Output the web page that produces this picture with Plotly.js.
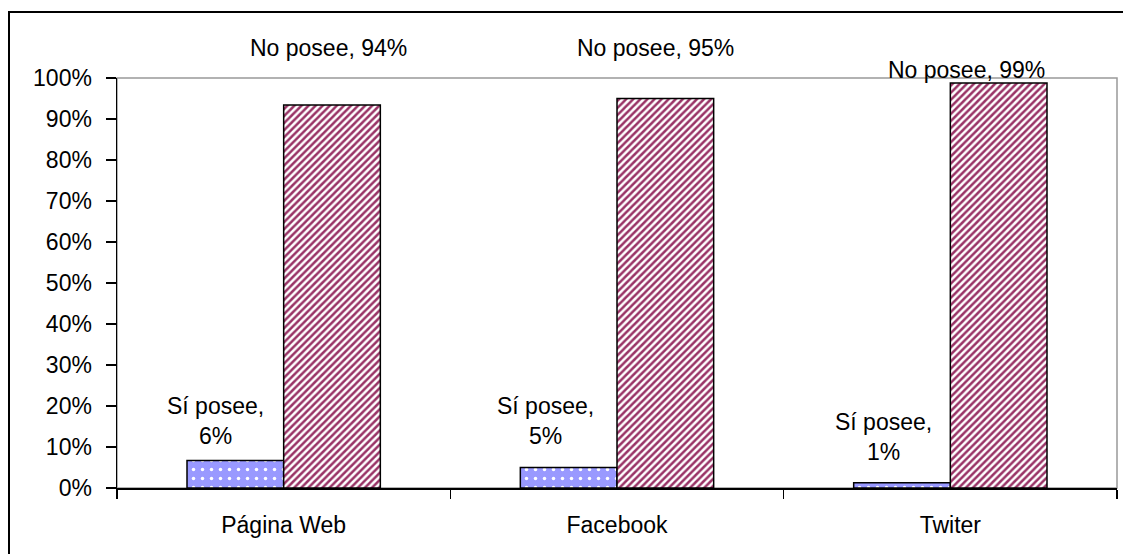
<!DOCTYPE html>
<html>
<head>
<meta charset="utf-8">
<script src="https://cdn.plot.ly/plotly-3.0.1.min.js"></script>
<style>html,body{margin:0;padding:0;background:#fff;}#chart{width:1123px;height:554px;}</style>
</head>
<body>
<div id="chart"></div>
<script>
const categories = ["Página Web", "Facebook", "Twiter"];
const siPosee = [6.7, 5, 1.3];
const noPosee = [93.4, 95, 98.8];
const siLabels = ["6%", "5%", "1%"];
const noLabels = ["94%", "95%", "99%"];
const siName = "Sí posee";
const noName = "No posee";

// label placement (layout only; y in fraction of plot height)
const noLabelPos = [{dx: 45, y: 1.072}, {dx: 38, y: 1.073}, {dx: 16, y: 1.02}];
const siLabelPos = [{dx: -68, y: 0.163}, {dx: -72, y: 0.163}, {dx: -67, y: 0.124}];

const font = {family: "Liberation Sans, Arial, sans-serif", size: 23, color: "#000"};

const traces = [
  {
    type: "bar", name: siName, x: categories, y: siPosee,
    marker: {
      color: "#9999FF",
      line: {color: "#000", width: 1.5},
      pattern: {shape: ".", bgcolor: "#9999FF", fgcolor: "#ffffff", size: 9, solidity: 0.12, fillmode: "replace"}
    },
    hoverinfo: "skip"
  },
  {
    type: "bar", name: noName, x: categories, y: noPosee,
    marker: {
      color: "#993366",
      line: {color: "#000", width: 1.5},
      pattern: {shape: "/", bgcolor: "#ffffff", fgcolor: "#993366", size: 5, solidity: 0.5, fillmode: "replace"}
    },
    hoverinfo: "skip"
  }
];

const annotations = [];
categories.forEach((c, i) => {
  annotations.push({
    x: i, y: noLabelPos[i].y, xref: "x", yref: "paper", xshift: noLabelPos[i].dx,
    text: noName + ", " + noLabels[i], showarrow: false, font: font,
    xanchor: "center", yanchor: "middle"
  });
  annotations.push({
    x: i, y: siLabelPos[i].y, xref: "x", yref: "paper", xshift: siLabelPos[i].dx,
    text: siName + ",<br>" + siLabels[i], showarrow: false, font: font,
    xanchor: "center", yanchor: "middle", align: "center"
  });
});

const layout = {
  width: 1123, height: 554,
  margin: {l: 117, r: 6, t: 78, b: 66, pad: 0},
  paper_bgcolor: "#fff", plot_bgcolor: "#fff",
  showlegend: false,
  barmode: "group", bargap: 0.42, bargroupgap: 0,
  font: font,
  xaxis: {
    type: "category",
    showline: true, linecolor: "#000", linewidth: 1.5,
    ticks: "outside", tickson: "boundaries", ticklen: 9, tickcolor: "#000", tickwidth: 1.5,
    showgrid: false, zeroline: false, ticklabelstandoff: 16,
    tickfont: font, automargin: false
  },
  yaxis: {
    range: [0, 100], dtick: 10, ticksuffix: "%",
    showline: true, linecolor: "#000", linewidth: 1.5,
    ticks: "outside", ticklen: 10, tickcolor: "#000", tickwidth: 1.5,
    showgrid: false, zeroline: false, ticklabelstandoff: 9,
    tickfont: font, automargin: false
  },
  annotations: annotations,
  shapes: [
    {type: "rect", xref: "paper", yref: "paper", x0: 0, x1: 1, y0: 0, y1: 1,
     line: {color: "#999", width: 1.5}, layer: "below"},
    {type: "rect", xref: "paper", yref: "paper", x0: -0.108, x1: 1.02, y0: -0.2, y1: 1.161,
     line: {color: "#000", width: 2}, layer: "below"}
  ]
};

Plotly.newPlot("chart", traces, layout, {displayModeBar: false, staticPlot: true});
</script>
</body>
</html>
